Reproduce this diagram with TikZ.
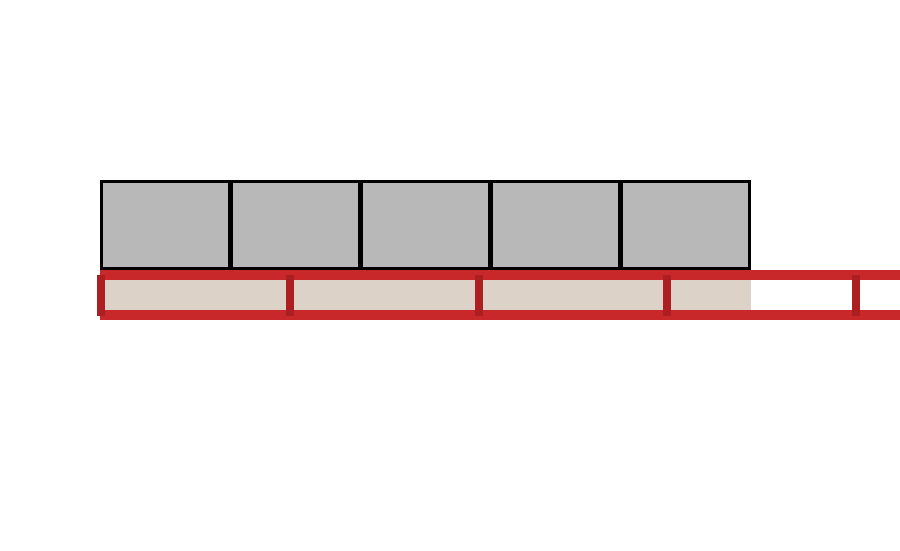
\documentclass[tikz,border=0pt]{standalone}
\definecolor{boxgray}{HTML}{B8B8B8}
\definecolor{bandred}{HTML}{C8282A}
\definecolor{tickred}{HTML}{AD1E20}
\definecolor{beige}{HTML}{DCD2C8}
\tikzset{
  blk/.style={draw=black, line width=3pt, fill=boxgray, rectangle, minimum width=128pt, minimum height=87pt, inner sep=0pt, outer sep=0pt},
  tickmark/.style={fill=tickred, draw=none, rectangle, minimum width=8pt, minimum height=41pt, inner sep=0pt}
}
\begin{document}
\begin{tikzpicture}[x=1pt,y=-1pt]
\useasboundingbox (0,0) rectangle (900,550);
% beige strip
\fill[beige] (100,280) rectangle (750.5,310);
% boxes
\foreach \i in {0,...,4}{
  \node[blk] (b\i) at ({101.5+130*\i+64},225) {};
}
% red bands
\fill[bandred] (100,270) rectangle (900,280);
\fill[bandred] (100,310) rectangle (900,320);
% ticks
\foreach \i/\xx in {0/101,1/289.75,2/478.5,3/667.25,4/856}{
  \node[tickmark] (t\i) at (\xx,295.5) {};
}
\end{tikzpicture}
\end{document}
